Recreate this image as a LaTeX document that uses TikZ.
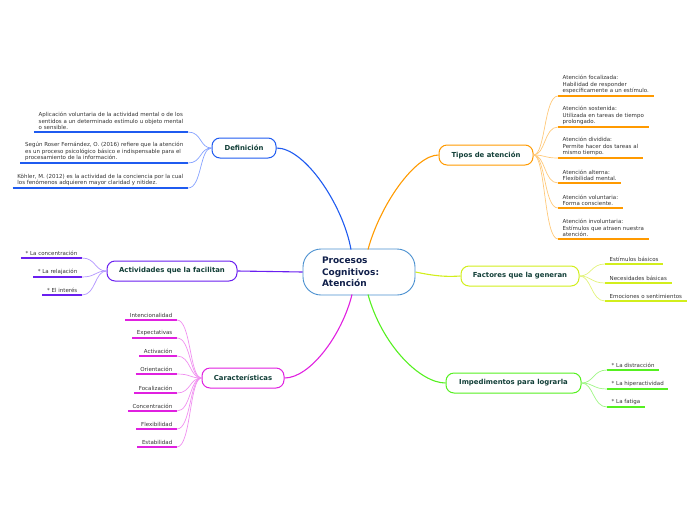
\documentclass[tikz,border=0pt]{standalone}
\usepackage{fontspec}
\setmainfont{DejaVu Sans}
\definecolor{cblue}{HTML}{1F5BF0}\definecolor{lblue}{HTML}{86A2FF}
\definecolor{cpurp}{HTML}{6A1FF0}\definecolor{lpurp}{HTML}{B396FF}
\definecolor{cmag}{HTML}{E020E0}\definecolor{lmag}{HTML}{F090F0}
\definecolor{corng}{HTML}{FF9A00}\definecolor{lorng}{HTML}{FFC97A}
\definecolor{cylw}{HTML}{D2EE1C}\definecolor{lylw}{HTML}{E2F37A}
\definecolor{cgrn}{HTML}{55F020}\definecolor{lgrn}{HTML}{9EF684}
\definecolor{ctr}{HTML}{4A90D0}\definecolor{ttxt}{HTML}{123F38}
\definecolor{stxt}{HTML}{333333}\definecolor{ctxt}{HTML}{101F4A}
\tikzset{
  topic/.style={draw, line width=1pt, rounded corners=8pt, fill=white, minimum height=20pt, inner sep=0pt,
    font=\fontsize{6.9}{8}\selectfont\bfseries, text=ttxt},
  sub/.style={inner xsep=4.5pt, inner ysep=2pt, font=\fontsize{5.5}{6.6}\selectfont, text=stxt},
  ul/.style={line width=1.4pt},
  conn/.style={line width=0.7pt},
  mainc/.style={line width=1.1pt}
}
\begin{document}
\begin{tikzpicture}[x=1pt,y=-1pt]
\useasboundingbox (0,0) rectangle (696,520);
% central
\node[draw=ctr, line width=0.9pt, fill=white, rounded corners=18pt, minimum width=112pt, minimum height=46pt,
  inner sep=0pt, text width=74pt, align=left, font=\fontsize{9}{11.5}\selectfont\bfseries, text=ctxt]
  (c) at (359,272) {Procesos\\Cognitivos:\\Atención};
% topics
\node[topic, draw=cblue, minimum width=64pt] (def) at (244,148) {Definición};
\node[topic, draw=corng, minimum width=94pt] (tip) at (486,155) {Tipos de atención};
\node[topic, draw=cylw, minimum width=118pt] (fac) at (520,276) {Factores que la generan};
\node[topic, draw=cgrn, minimum width=135pt] (imp) at (513.5,383) {Impedimentos para lograrla};
\node[topic, draw=cmag, minimum width=82pt] (car) at (243,378) {Características};
\node[topic, draw=cpurp, minimum width=130pt] (act) at (172,271) {Actividades que la facilitan};
% main connectors
\coordinate (cb) at (351,249.5);
\coordinate (co) at (368,249.5);
\coordinate (cm) at (352,294.5);
\coordinate (cg) at (368,294.5);
\draw[mainc, cblue] (cb) .. controls (343,205) and (305,148) .. (def.east);
\draw[mainc, corng] (co) .. controls (380,205) and (415,155) .. (tip.west);
\draw[mainc, cylw] (c.east) .. controls (435,276) and (445,277) .. (fac.west);
\draw[mainc, cgrn] (cg) .. controls (382,345) and (420,383) .. (imp.west);
\draw[mainc, cmag] (cm) .. controls (342,335) and (310,378) .. (car.east);
\draw[mainc, cpurp] (c.west) -- (act.east);
% Definicion items
\node[sub, anchor=south east, align=left] (d1) at (188,132) {Aplicación voluntaria de la actividad mental o de los\\sentidos a un determinado estímulo u objeto mental\\o sensible.};
\node[sub, anchor=south east, align=left] (d2) at (188,163) {Según Roser Fernández, O. (2016) refiere que la atención\\es un proceso psicológico básico e indispensable para el\\procesamiento de la información.};
\node[sub, anchor=south east, align=left] (d3) at (188,188) {Köhler, M. (2012) es la actividad de la conciencia por la cual\\los fenómenos adquieren mayor claridad y nitidez.};
\foreach \n in {d1,d2,d3}{
  \draw[ul, cblue] (\n.south west) -- (\n.south east);
  \draw[conn, lblue] (\n.south east) .. controls +(14,0) and +(-12,0) .. (def.west);
}
% Actividades items
\node[sub, anchor=south east] (a1) at (82,258) {* La concentración};
\node[sub, anchor=south east] (a2) at (82,277) {* La relajación};
\node[sub, anchor=south east] (a3) at (82,295) {* El interés};
\foreach \n in {a1,a2,a3}{
  \draw[ul, cpurp] (\n.south west) -- (\n.south east);
  \draw[conn, lpurp] (\n.south east) .. controls +(14,0) and +(-12,0) .. (act.west);
}
% Caracteristicas items
\node[sub, anchor=south east] (k1) at (177,320) {Intencionalidad};
\node[sub, anchor=south east] (k2) at (177,338) {Expectativas};
\node[sub, anchor=south east] (k3) at (177,356) {Activación};
\node[sub, anchor=south east] (k4) at (177,374) {Orientación};
\node[sub, anchor=south east] (k5) at (177,393) {Focalización};
\node[sub, anchor=south east] (k6) at (177,411) {Concentración};
\node[sub, anchor=south east] (k7) at (177,429) {Flexibilidad};
\node[sub, anchor=south east] (k8) at (177,447) {Estabilidad};
\foreach \n in {k1,k2,k3,k4,k5,k6,k7,k8}{
  \draw[ul, cmag] (\n.south west) -- (\n.south east);
  \draw[conn, lmag] (\n.south east) .. controls +(14,0) and +(-12,0) .. (car.west);
}
% Tipos items
\node[sub, anchor=south west, align=left] (t1) at (558,96) {Atención focalizada:\\Habilidad de responder\\específicamente a un estímulo.};
\node[sub, anchor=south west, align=left] (t2) at (558,127) {Atención sostenida:\\Utilizada en tareas de tiempo\\prolongado.};
\node[sub, anchor=south west, align=left] (t3) at (558,158) {Atención dividida:\\Permite hacer dos tareas al\\mismo tiempo.};
\node[sub, anchor=south west, align=left] (t4) at (558,183) {Atención alterna:\\Flexibilidad mental.};
\node[sub, anchor=south west, align=left] (t5) at (558,208) {Atención voluntaria:\\Forma consciente.};
\node[sub, anchor=south west, align=left] (t6) at (558,239) {Atención involuntaria:\\Estímulos que atraen nuestra\\atención.};
\foreach \n in {t1,t2,t3,t4,t5,t6}{
  \draw[ul, corng] (\n.south west) -- (\n.south east);
  \draw[conn, lorng] (tip.east) .. controls +(12,0) and +(-14,0) .. (\n.south west);
}
% Factores items
\node[sub, anchor=south west] (f1) at (605,264) {Estímulos básicos};
\node[sub, anchor=south west] (f2) at (605,283) {Necesidades básicas};
\node[sub, anchor=south west] (f3) at (605,301) {Emociones o sentimientos};
\foreach \n in {f1,f2,f3}{
  \draw[ul, cylw] (\n.south west) -- (\n.south east);
  \draw[conn, lylw] (fac.east) .. controls +(12,0) and +(-14,0) .. (\n.south west);
}
% Impedimentos items
\node[sub, anchor=south west] (i1) at (607,370) {* La distracción};
\node[sub, anchor=south west] (i2) at (607,389) {* La hiperactividad};
\node[sub, anchor=south west] (i3) at (607,407) {* La fatiga};
\foreach \n in {i1,i2,i3}{
  \draw[ul, cgrn] (\n.south west) -- (\n.south east);
  \draw[conn, lgrn] (imp.east) .. controls +(12,0) and +(-14,0) .. (\n.south west);
}
\end{tikzpicture}
\end{document}
